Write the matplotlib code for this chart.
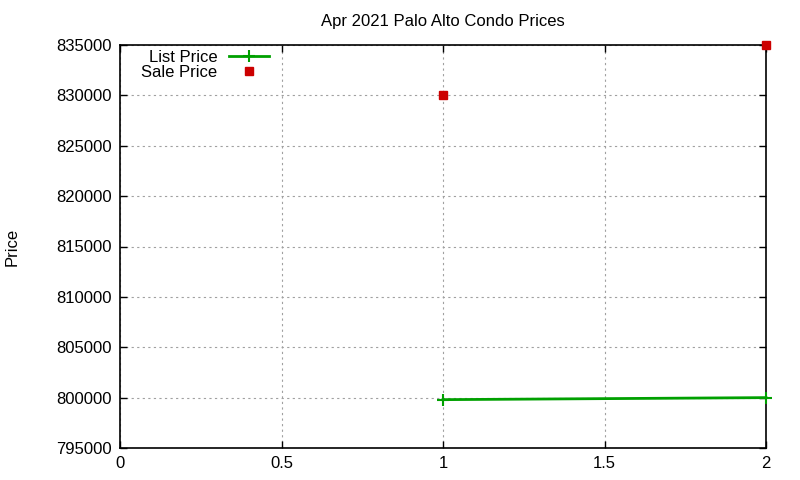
import matplotlib
matplotlib.use('Agg')
import matplotlib.pyplot as plt

title = "Apr 2021 Palo Alto Condo Prices"
list_x = [1, 2]
list_price = [799800, 800000]
sale_x = [1, 2]
sale_price = [830000, 835000]
xticks = [0, 0.5, 1, 1.5, 2]
yticks = [795000, 800000, 805000, 810000, 815000, 820000, 825000, 830000, 835000]

plt.rcParams['font.family'] = ['Liberation Sans', 'DejaVu Sans']
plt.rcParams['font.size'] = 12

fig = plt.figure(figsize=(8, 4.8), dpi=100)
ax = fig.add_axes([120/800, 1 - 448/480, 646/800, 403/480])

ax.plot(list_x, list_price, color='#00a000', lw=2, marker='+', ms=9, mew=1.5,
        label='List Price', clip_on=False, zorder=3)
ax.plot(sale_x, sale_price, ls='none', color='#cc0000', marker='s', ms=6,
        label='Sale Price', clip_on=False, zorder=3)

ax.set_xlim(0, 2)
ax.set_ylim(795000, 835000)
ax.set_xticks(xticks)
ax.set_xticklabels(['0', '0.5', '1', '1.5', '2'])
ax.set_yticks(yticks)
ax.set_yticklabels([str(v) for v in yticks])
ax.tick_params(direction='in', length=5, width=1, top=True, right=True, pad=6)
ax.grid(True, color='#a0a0a0', ls=(0, (2, 3)), lw=0.8)
for s in ax.spines.values():
    s.set_linewidth(1.2)

ax.set_title(title, fontsize=12, pad=14)
ax.set_ylabel('Price', labelpad=26)

leg = ax.legend(loc='upper left', bbox_to_anchor=(0.015, 1.017), markerfirst=False,
                frameon=False, handlelength=2.4, handletextpad=0.7,
                labelspacing=0.0, borderaxespad=0.3)
for t in leg.get_texts():
    t.set_ha('right')

fig.savefig('out.png', dpi=100)
